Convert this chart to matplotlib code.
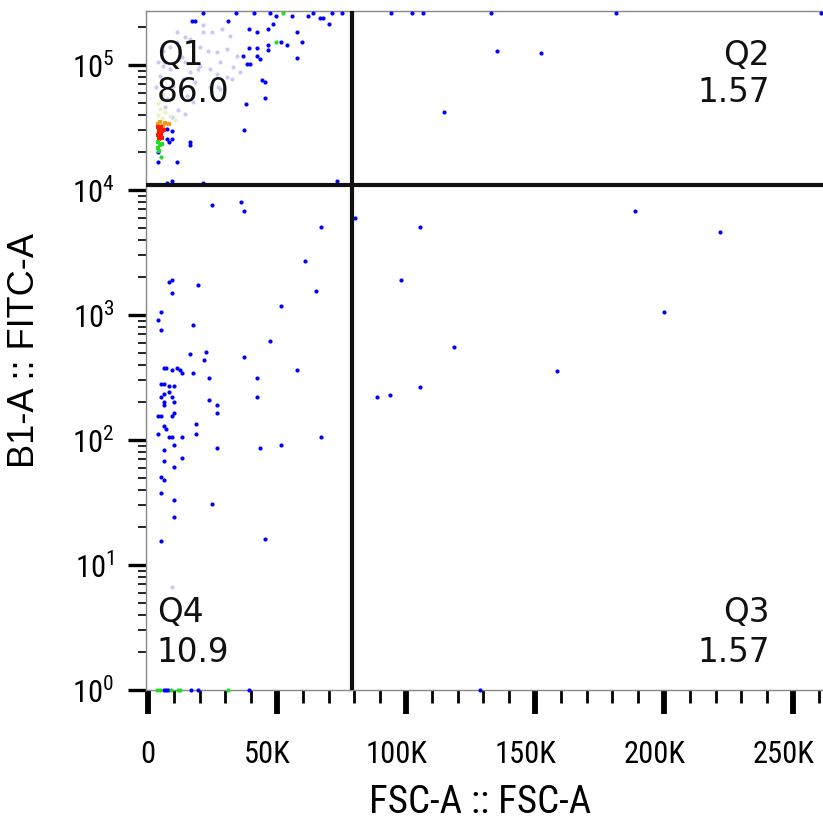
import matplotlib
matplotlib.use("Agg")
import matplotlib.pyplot as plt
import matplotlib.ticker as ticker
import matplotlib.transforms as mtransforms
import numpy as np

plt.rcParams['font.family'] = ['Roboto Condensed', 'Liberation Sans', 'DejaVu Sans']

# ==========================================
# Data (FSC-A raw units, B1-A FITC-A fluorescence)
# ==========================================
Y_SAT = 262143          # saturated events, drawn on the top edge
Y_FLOOR = 1             # events at or below zero, piled on the bottom edge

GATE_X = 78900
GATE_Y = 10960

QUAD_LABELS = ["Q1", "Q2", "Q3", "Q4"]
QUAD_PCT = ["86.0", "1.57", "1.57", "10.9"]

X_TICKS = [0, 50000, 100000, 150000, 200000, 250000]
X_TICK_LABELS = ["0", "50K", "100K", "150K", "200K", "250K"]
Y_TICKS = [1, 10, 100, 1000, 10000, 100000]
Y_TICK_LABELS = [r"$\mathregular{10^{%d}}$" % i for i in range(6)]

# sparse events (blue)
top_blue_x = [21300, 34100, 41000, 47200, 63900, 71200, 75100, 94000, 102200,
              106400, 133100, 181500, 260800]
top_green_x = [52200]
bottom_blue_x = [6200, 7000, 7700, 16600, 19400, 39100, 128500]
bottom_green_x = [3500, 4600, 8900, 11600, 12400, 31000]

q1_x = [17000, 18200, 31000, 49500, 55700, 61900, 66600, 67800, 70000, 48400,
        39100, 42200, 46400, 57700, 51500, 53800, 59600, 46400, 46400, 42200,
        39100, 36800, 42200, 43300, 57700, 38300, 39500, 44100, 45300, 45300,
        37900, 37200, 7400, 9300, 7400, 9300, 8100, 16300, 16300, 3900,
        3900, 11200, 9300, 7400, 21300, 73100]
q1_y = [225000, 225000, 225000, 247000, 247000, 247000, 238000, 238000, 213000, 213000,
        194000, 184000, 194000, 184000, 153000, 145000, 153000, 145000, 132000, 137000,
        137000, 118000, 118000, 112000, 114000, 102000, 102000, 75900, 73100, 54500,
        48800, 30200, 30800, 29600, 25600, 25600, 24200, 24200, 23000, 20100,
        16700, 16700, 11800, 11400, 11400, 11800]
q1_green_x = [49500, 5000]
q1_green_y = [153000, 18400]

q2_x = [135100, 152500, 114600]
q2_y = [129000, 125000, 42100]

q3_x = [80100, 188900, 105300, 221800, 97900, 200100, 118400, 158700, 88600, 93700, 105300]
q3_y = [5970, 6790, 5060, 4610, 1910, 1060, 555, 356, 221, 229, 265]

q4_x = [24800, 36000, 37200, 67000, 60800, 8100, 9300, 19400, 9300, 65000,
        51500, 5000, 3900, 17400, 5000, 47200, 16300, 22400, 21700, 37200,
        6200, 7000, 9300, 11200, 12400, 13200, 17400, 57700, 23600, 42200,
        5000, 6200, 8100, 10100, 8100, 6200, 5000, 9300, 10100, 6200,
        6200, 23600, 26700, 42200, 3900, 5000, 9300, 10100, 26700, 6200,
        7000, 18600, 3900, 8100, 9300, 13200, 18600, 67000, 10100, 26700,
        43300, 51500, 6200, 13200, 6200, 10100, 5000, 6200, 5000, 10100,
        24800, 10100, 45300, 5000]
q4_y = [7590, 8020, 6790, 5060, 2700, 1840, 1910, 1740, 1500, 1560,
        1180, 1060, 912, 832, 759, 619, 488, 506, 437, 461,
        377, 377, 363, 377, 363, 344, 344, 363, 313, 313,
        281, 281, 270, 270, 242, 233, 221, 221, 201, 201,
        191, 209, 191, 221, 156, 156, 156, 164, 164, 129,
        122, 134, 112, 106, 106, 106, 112, 106, 91, 86,
        86, 91, 83, 72, 68, 61, 51, 48, 38, 33,
        31, 24, 16, 15.6]

# dense main population (density colours)
haze_x = [21300, 24800, 28600, 31700, 14300, 11200, 8500, 5800, 20100, 23200,
          26700, 30600, 34400, 27900, 24000, 20100, 16300, 13500, 8500, 5800,
          4600, 9700, 18200, 30600, 26700, 35600, 7400, 15100, 11200, 21300,
          16300, 14300, 13200, 19400, 27900, 24000, 32500, 32900, 27100, 11600,
          14300, 9300, 6600, 6600, 3900, 3100, 17400, 9300]
haze_y = [209000, 184000, 194000, 171000, 167000, 153000, 139000, 129000, 139000, 129000,
          127000, 134000, 118000, 106000, 92900, 98200, 87900, 77300, 92900, 98200,
          81700, 67900, 73100, 80200, 84700, 87900, 53500, 56500, 184000, 184000,
          161000, 106000, 116000, 92900, 64300, 66700, 77300, 96400, 66700, 43700,
          40600, 38400, 46100, 106000, 106000, 66700, 50600, 6.7]
pale_x = [4600, 6600, 8500, 5400, 10400, 3900, 3900, 5800]
pale_y = [44500, 42100, 39100, 37700, 36300, 39800, 49700, 57500]
orange_x = [4600, 6600, 8100, 3900, 5800]
orange_y = [35000, 34400, 33700, 33700, 32500]
red_x = [3900, 5000, 4300, 5400, 3900, 5000, 4300, 5400, 6200]
red_y = [31900, 31900, 29600, 29600, 27500, 27500, 25600, 26100, 30200]
green_x = [3900, 4600, 3900, 4300, 5400]
green_y = [24200, 22900, 21700, 20500, 23300]

BLUE = "#0000ff"
GREEN = "#22dd22"

fig = plt.figure(figsize=(8.23, 8.22), dpi=100)
ax = fig.add_axes([146 / 823, 1 - 690 / 822, 677 / 823, 679 / 822])
ax.set_yscale("log")
ax.set_xlim(-780, 261600)
ax.set_ylim(Y_FLOOR, 270000)

dot = dict(s=9, linewidths=0, zorder=3)
core = dict(marker="s", s=7, linewidths=0, zorder=4)

ax.scatter(haze_x, haze_y, color="#cacaf8", **dot)
ax.scatter(pale_x, pale_y, color="#e2f2c2", **dot)
ax.scatter(orange_x, orange_y, color="#ff9a10", **core)
ax.scatter(red_x, red_y, color="#ff1a00", **core)
ax.scatter(green_x, green_y, color=GREEN, **core)

ax.scatter(q1_x, q1_y, color=BLUE, **dot)
ax.scatter(q1_green_x, q1_green_y, color=GREEN, **dot)
ax.scatter(q2_x, q2_y, color=BLUE, **dot)
ax.scatter(q3_x, q3_y, color=BLUE, **dot)
ax.scatter(q4_x, q4_y, color=BLUE, **dot)

ax.scatter(top_blue_x, [Y_SAT] * len(top_blue_x), color=BLUE, clip_on=False, **dot)
ax.scatter(top_green_x, [Y_SAT] * len(top_green_x), color=GREEN, clip_on=False, **dot)
ax.scatter(bottom_blue_x, [Y_FLOOR] * len(bottom_blue_x), color=BLUE, clip_on=False, **dot)
ax.scatter(bottom_green_x, [Y_FLOOR] * len(bottom_green_x), color=GREEN, clip_on=False, **dot)

# quadrant gates
ax.axvline(GATE_X, color="#111111", lw=3.0, zorder=5)
ax.axhline(GATE_Y, color="#111111", lw=3.0, zorder=5)

# quadrant labels
qfont = dict(family="DejaVu Sans", fontsize=23.5, color="#111111", va="baseline", zorder=6)
ax.text(0.016, 0.9205, QUAD_LABELS[0], transform=ax.transAxes, ha="left", **qfont)
ax.text(0.016, 0.866, QUAD_PCT[0], transform=ax.transAxes, ha="left", **qfont)
ax.text(0.9217, 0.9205, QUAD_LABELS[1], transform=ax.transAxes, ha="right", **qfont)
ax.text(0.9217, 0.866, QUAD_PCT[1], transform=ax.transAxes, ha="right", **qfont)
ax.text(0.9217, 0.1001, QUAD_LABELS[2], transform=ax.transAxes, ha="right", **qfont)
ax.text(0.9217, 0.0412, QUAD_PCT[2], transform=ax.transAxes, ha="right", **qfont)
ax.text(0.016, 0.1001, QUAD_LABELS[3], transform=ax.transAxes, ha="left", **qfont)
ax.text(0.016, 0.0412, QUAD_PCT[3], transform=ax.transAxes, ha="left", **qfont)

# spines
for side in ["left", "top", "bottom"]:
    ax.spines[side].set_color("#888888")
    ax.spines[side].set_linewidth(1.0)
ax.spines["right"].set_visible(False)

# ticks
ax.set_xticks(X_TICKS)
ax.set_xticklabels(X_TICK_LABELS)
ax.xaxis.set_minor_locator(ticker.MultipleLocator(10000))
ax.set_yticks(Y_TICKS)
ax.set_yticklabels(Y_TICK_LABELS)
ax.yaxis.set_minor_locator(ticker.LogLocator(base=10, subs=np.arange(2, 10), numticks=20))
ax.yaxis.set_minor_formatter(ticker.NullFormatter())

ax.tick_params(axis="x", which="major", direction="out", length=17, width=4.2,
               color="black", labelsize=22, pad=19)
ax.tick_params(axis="x", which="minor", direction="out", length=9, width=2.0, color="black")
ax.tick_params(axis="y", which="major", direction="out", length=13, width=2.4,
               color="black", labelsize=22, pad=10)
ax.tick_params(axis="y", which="minor", direction="out", length=6, width=1.2, color="black")

# FlowJo centres the number part of "50K" on the tick
shift = mtransforms.ScaledTranslation(-7 / 72, 0, fig.dpi_scale_trans)
for lab in ax.get_xticklabels():
    if lab.get_text().endswith("K"):
        lab.set_transform(lab.get_transform() + shift)

ax.set_xlabel("FSC-A :: FSC-A", fontsize=28)
ax.set_ylabel("B1-A :: FITC-A", fontsize=26, family="Liberation Sans")
ax.xaxis.set_label_coords(0.493, -0.138)
ax.yaxis.set_label_coords(-0.154, 0.5)

fig.savefig("out.png", dpi=100)
